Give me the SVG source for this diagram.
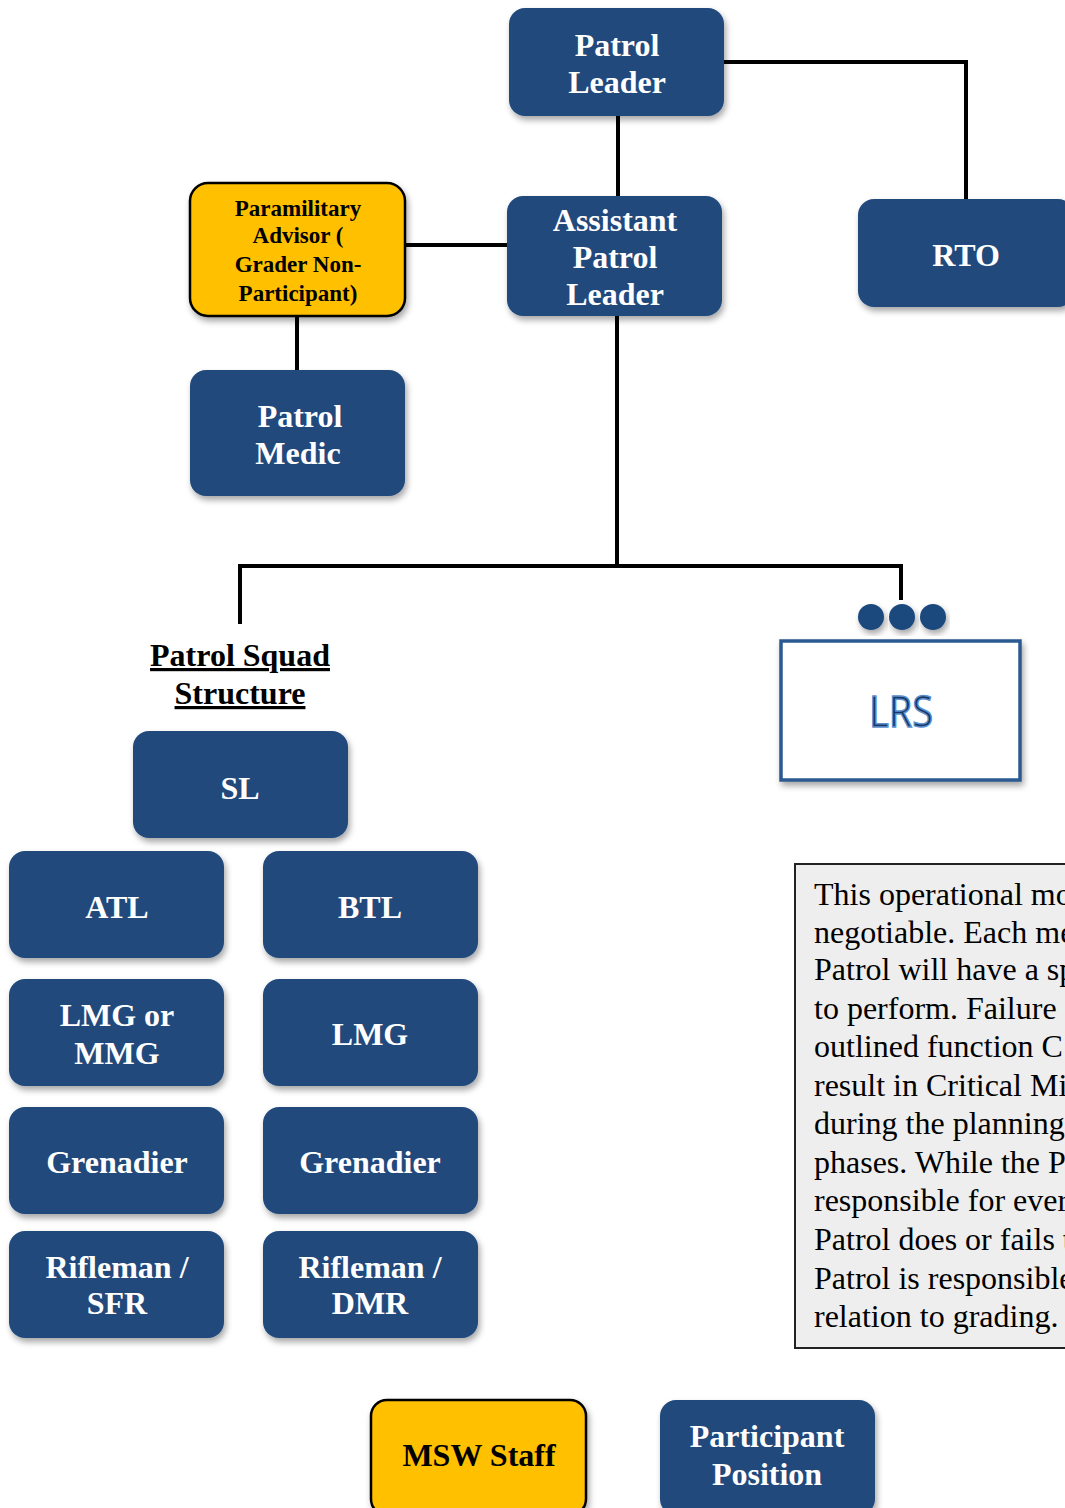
<svg xmlns="http://www.w3.org/2000/svg" width="1065" height="1508" viewBox="0 0 1065 1508">
<defs>
<filter id="sh" x="-10%" y="-10%" width="125%" height="130%">
<feDropShadow dx="2" dy="4" stdDeviation="3" flood-color="#000" flood-opacity="0.35"/>
</filter>
<style>
.b{fill:#214a7c;filter:url(#sh)}
.y{fill:#ffc000;stroke:#000;stroke-width:2.5;filter:url(#sh)}
.t{font-family:"Liberation Serif","Times New Roman",serif;font-weight:bold;font-size:32px;fill:#fff;text-anchor:middle}
.tk{font-family:"Liberation Serif","Times New Roman",serif;font-weight:bold;fill:#000;text-anchor:middle}
.c{stroke:#000;stroke-width:4;fill:none}
.p{font-family:"Liberation Serif","Times New Roman",serif;font-size:32px;fill:#000}
</style>
</defs>
<rect width="1065" height="1508" fill="#fff"/>
<g id="connectors">
<line class="c" x1="618" y1="116" x2="618" y2="196"/>
<polyline class="c" points="724,62 966,62 966,199"/>
<line class="c" x1="405" y1="245" x2="507" y2="245"/>
<line class="c" x1="297" y1="316" x2="297" y2="370"/>
<line class="c" x1="617" y1="316" x2="617" y2="566"/>
<polyline class="c" points="240,624 240,566 901,566 901,600"/>
</g>
<g id="patrol-leader"><rect class="b" x="509" y="8" width="215" height="108" rx="16"/><text class="t" x="617" y="56">Patrol</text><text class="t" x="617" y="93">Leader</text></g>
<g id="assistant-patrol-leader"><rect class="b" x="507" y="196" width="215" height="120" rx="16"/><text class="t" x="615" y="231">Assistant</text><text class="t" x="615" y="268">Patrol</text><text class="t" x="615" y="305">Leader</text></g>
<g id="paramilitary-advisor"><rect class="y" x="190" y="183" width="215" height="133" rx="18"/><text class="tk" font-size="23" x="298" y="216">Paramilitary</text><text class="tk" font-size="23" x="298" y="243">Advisor (</text><text class="tk" font-size="23" x="298" y="272">Grader Non-</text><text class="tk" font-size="23" x="298" y="301">Participant)</text></g>
<g id="patrol-medic"><rect class="b" x="190" y="370" width="215" height="126" rx="16"/><text class="t" x="300" y="427">Patrol</text><text class="t" x="298" y="464">Medic</text></g>
<g id="rto"><rect class="b" x="858" y="199" width="216" height="108" rx="16"/><text class="t" x="966" y="266">RTO</text></g>
<g id="lrs">
<circle cx="871" cy="617" r="13" fill="#1f497d" filter="url(#sh)"/><circle cx="902" cy="617" r="13" fill="#1f497d" filter="url(#sh)"/><circle cx="933" cy="617" r="13" fill="#1f497d" filter="url(#sh)"/>
<rect x="781" y="641" width="239" height="139" fill="#fff" stroke="#2b5a91" stroke-width="3.5" filter="url(#sh)"/>
<text x="901" y="727" font-family="'Open Sans','Liberation Sans',sans-serif" font-size="44" fill="#17375e" stroke="#5b8fcf" stroke-width="1.5" text-anchor="middle" textLength="64" lengthAdjust="spacingAndGlyphs">LRS</text>
</g>
<g id="squad-title"><text class="tk" font-size="32" x="240" y="666" text-decoration="underline">Patrol Squad</text><text class="tk" font-size="32" x="240" y="704" text-decoration="underline">Structure</text></g>
<g id="sl"><rect class="b" x="133" y="731" width="215" height="107" rx="16"/><text class="t" x="240" y="799">SL</text></g>
<g id="atl"><rect class="b" x="9" y="851" width="215" height="107" rx="16"/><text class="t" x="117" y="918">ATL</text></g>
<g id="btl"><rect class="b" x="263" y="851" width="215" height="107" rx="16"/><text class="t" x="370" y="918">BTL</text></g>
<g id="lmg-mmg"><rect class="b" x="9" y="979" width="215" height="107" rx="16"/><text class="t" x="117" y="1026">LMG or</text><text class="t" x="117" y="1064">MMG</text></g>
<g id="lmg"><rect class="b" x="263" y="979" width="215" height="107" rx="16"/><text class="t" x="370" y="1045">LMG</text></g>
<g id="grenadier-a"><rect class="b" x="9" y="1107" width="215" height="107" rx="16"/><text class="t" x="117" y="1173">Grenadier</text></g>
<g id="grenadier-b"><rect class="b" x="263" y="1107" width="215" height="107" rx="16"/><text class="t" x="370" y="1173">Grenadier</text></g>
<g id="rifleman-sfr"><rect class="b" x="9" y="1231" width="215" height="107" rx="16"/><text class="t" x="117" y="1278">Rifleman /</text><text class="t" x="117" y="1314">SFR</text></g>
<g id="rifleman-dmr"><rect class="b" x="263" y="1231" width="215" height="107" rx="16"/><text class="t" x="370" y="1278">Rifleman /</text><text class="t" x="370" y="1314">DMR</text></g>
<g id="note">
<rect x="795" y="864" width="290" height="484" fill="#eeeeee" stroke="#222" stroke-width="2"/>
<text class="p" x="814" y="905">This operational mo</text>
<text class="p" x="814" y="943">negotiable. Each me</text>
<text class="p" x="814" y="980">Patrol will have a sp</text>
<text class="p" x="814" y="1019">to perform. Failure</text>
<text class="p" x="814" y="1057">outlined function C</text>
<text class="p" x="814" y="1096">result in Critical Mi</text>
<text class="p" x="814" y="1134">during the planning</text>
<text class="p" x="814" y="1173">phases. While the P</text>
<text class="p" x="814" y="1211">responsible for ever</text>
<text class="p" x="814" y="1250">Patrol does or fails t</text>
<text class="p" x="814" y="1289">Patrol is responsible</text>
<text class="p" x="814" y="1327">relation to grading.</text>
</g>
<g id="legend-msw"><rect class="y" x="371" y="1400" width="215" height="115" rx="16"/><text class="tk" font-size="32" x="479" y="1466">MSW Staff</text></g>
<g id="legend-participant"><rect class="b" x="660" y="1400" width="215" height="115" rx="16"/><text class="t" x="767" y="1447">Participant</text><text class="t" x="767" y="1485">Position</text></g>
</svg>
